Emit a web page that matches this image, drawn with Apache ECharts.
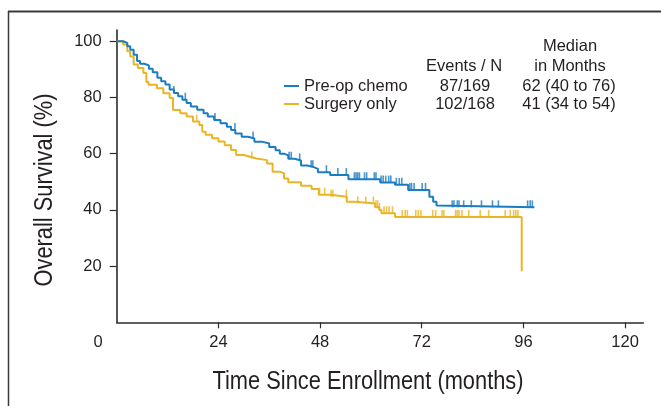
<!DOCTYPE html>
<html>
<head>
<meta charset="utf-8">
<script src="https://cdn.jsdelivr.net/npm/echarts@6/dist/echarts.min.js"></script>
<style>
html,body{margin:0;padding:0;background:#fff;}
#chart{width:661px;height:406px;}
</style>
</head>
<body>
<div id="chart"></div>
<script>
// ---- Data ----
const seriesNames = ['Pre-op chemo', 'Surgery only'];
const eventsN = ['87/169', '102/168'];
const medians = ['62 (40 to 76)', '41 (34 to 54)'];
const headerEvents = 'Events / N';
const headerMedian1 = 'Median';
const headerMedian2 = 'in Months';
const xTitle = 'Time Since Enrollment (months)';
const yTitle = 'Overall Survival (%)';
const xTickValues = [0, 24, 48, 72, 96, 120];
const yTickValues = [20, 40, 60, 80, 100];

// Kaplan-Meier steps: survival drops to value at time
const chemoTime = [0, 1.5, 2.5, 3.2, 4, 4.8, 5.5, 6.5, 7.6, 8.5, 9.6, 10.5, 11.5, 12.5, 13.5, 14.5, 15.5, 16.5, 17.5, 19, 20.5, 21.5, 23, 24.5, 26, 27, 28, 29.5, 31, 32.5, 34.5, 36, 37.5, 38.5, 39.5, 40.5, 42, 43.5, 45, 46.5, 47.5, 50.4, 54.7, 62.2, 65.7, 68.8, 73.8, 74.7, 75.5, 75.9, 98.6];
const chemoSurv = [100, 99.4, 98.2, 97, 95.2, 93, 92, 91.4, 90.2, 89, 87, 85.8, 84.6, 82.8, 81.6, 80.4, 79.2, 78, 76.8, 75.6, 74.4, 73.2, 72, 70.8, 69.6, 68.4, 67.2, 66, 65.4, 64.2, 63.6, 62.4, 61.2, 60, 59.4, 58.2, 57.6, 55.8, 55.2, 54.6, 53.4, 52.4, 50.9, 49.7, 48.9, 47.1, 44.7, 42.9, 41.6, 40.9, 40.9];
const surgeryTime = [0, 1.5, 2.5, 3.2, 4, 5, 6.3, 7, 7.5, 9.5, 11, 12.5, 13.3, 15, 16.5, 18, 19.5, 20.2, 21, 22.5, 24, 25.5, 27, 28.2, 30, 31.5, 33, 35.5, 36.8, 38.5, 39.5, 40.5, 43.5, 46, 47.7, 50.4, 54.3, 56.3, 61, 62, 62.5, 65.7, 95.6];
const surgerySurv = [100, 98.8, 96.4, 94.6, 91.7, 90.5, 88.7, 85.5, 84.5, 83.3, 81.5, 79.8, 75.5, 74.4, 73.2, 71.4, 70.2, 67.8, 66.7, 65.5, 64.3, 63, 61.3, 59.5, 58.9, 58.3, 57.7, 56.5, 53.6, 53, 51.2, 49.8, 48.6, 47.4, 45.4, 44.7, 42.9, 42.3, 40.9, 40, 38.8, 37.5, 18.2];
// censoring times
const chemoCensor = [13.5, 16.2, 23.2, 27.9, 32.2, 40.7, 41.2, 43.2, 45.9, 46.3, 49.5, 52.2, 54.2, 56.1, 56.5, 56.9, 57.3, 58.5, 59.0, 60.8, 61.2, 62.4, 62.9, 63.5, 64.2, 64.7, 66.0, 66.7, 67.3, 69.2, 69.6, 70.2, 72.1, 72.9, 79.2, 79.6, 80.4, 80.8, 81.9, 83.7, 86.1, 88.7, 90.1, 97.0, 97.6, 98.1];
const surgeryCensor = [18.9, 31.9, 47.9, 49.1, 50.6, 51.0, 54.2, 56.9, 58.8, 60.6, 61.2, 61.6, 62.0, 63.1, 63.7, 64.3, 65.1, 67.4, 68.1, 68.6, 70.6, 71.2, 71.8, 74.6, 75.3, 76.8, 77.2, 80.0, 80.4, 80.8, 81.5, 83.1, 85.8, 87.8, 91.7, 92.9, 93.7, 94.2, 94.7];

// ---- Styles ----
const BLUE = '#1a7cc1';
const YELLOW = '#ebb424';
const TXT = '#231f20';
const SANS = '"Liberation Sans", Arial, Helvetica, sans-serif';

function pairs(t, s) { return t.map((v, i) => [v, s[i]]); }
function survAt(t, s, x) {
  let v = s[0];
  for (let i = 0; i < t.length; i++) { if (t[i] <= x) v = s[i]; else break; }
  return v;
}
function censorPts(c, t, s) { return c.map(x => [x, survAt(t, s, x)]); }

const chart = echarts.init(document.getElementById('chart'), null, { renderer: 'canvas' });

const tableRows = [86, 104];
const graphics = [
  { type: 'line', shape: { x1: 8, y1: 11.5, x2: 661, y2: 11.5 }, style: { stroke: '#3a3a3a', lineWidth: 2 } },
  { type: 'line', shape: { x1: 8.5, y1: 11, x2: 8.5, y2: 406 }, style: { stroke: '#3a3a3a', lineWidth: 1.5 } },
  { type: 'text', x: 570, y: 46, style: { text: headerMedian1, font: '16.5px ' + SANS, fill: TXT, align: 'center', verticalAlign: 'middle' } },
  { type: 'text', x: 570, y: 66, style: { text: headerMedian2, font: '16.5px ' + SANS, fill: TXT, align: 'center', verticalAlign: 'middle' } },
  { type: 'text', x: 464, y: 66, style: { text: headerEvents, font: '16.5px ' + SANS, fill: TXT, align: 'center', verticalAlign: 'middle' } },
  { type: 'text', x: 368, y: 382, scaleX: 0.84, style: { text: xTitle, font: '26px ' + SANS, fill: TXT, align: 'center', verticalAlign: 'middle' } },
  { type: 'text', x: 45, y: 190, rotation: Math.PI / 2, scaleX: 0.84, style: { text: yTitle, font: '26px ' + SANS, fill: TXT, align: 'center', verticalAlign: 'middle' } }
];
tableRows.forEach((y, i) => {
  graphics.push({ type: 'text', x: 465, y: y, style: { text: eventsN[i], font: '16.5px ' + SANS, fill: TXT, align: 'center', verticalAlign: 'middle' } });
  graphics.push({ type: 'text', x: 569, y: y, style: { text: medians[i], font: '16.5px ' + SANS, fill: TXT, align: 'center', verticalAlign: 'middle' } });
});

const option = {
  animation: false,
  backgroundColor: '#fff',
  grid: { left: 116.7, right: 17.7, top: 30, bottom: 83.7, containLabel: false },
  legend: {
    data: seriesNames,
    orient: 'vertical',
    left: 284,
    top: 77,
    itemWidth: 15,
    itemHeight: 2,
    itemGap: 0,
    icon: 'rect',
    padding: 0,
    textStyle: { fontFamily: SANS, fontSize: 16.5, color: TXT, lineHeight: 18 },
    selectedMode: false
  },
  xAxis: {
    type: 'value', min: 0, max: 124.3, interval: 24,
    axisLine: { lineStyle: { color: '#2b2b2b', width: 1.6 } },
    axisTick: { show: true, length: 6, customValues: [24, 48, 72, 96, 120], lineStyle: { color: '#2b2b2b', width: 1.2 } },
    axisLabel: {
      customValues: xTickValues, margin: 12,
      fontFamily: SANS, fontSize: 16.5, color: TXT,
      formatter: v => v === 0 ? '{z|0}' : String(v),
      rich: { z: { padding: [0, 37, 0, 0], fontFamily: SANS, fontSize: 16.5, color: TXT } }
    },
    splitLine: { show: false }
  },
  yAxis: {
    type: 'value', min: 0, max: 104, interval: 20,
    axisLine: { show: true, lineStyle: { color: '#2b2b2b', width: 1.6 } },
    axisTick: { show: true, length: 7, customValues: yTickValues, lineStyle: { color: '#2b2b2b', width: 1.2 } },
    axisLabel: { customValues: yTickValues, margin: 15, fontFamily: SANS, fontSize: 16.5, color: TXT },
    splitLine: { show: false }
  },
  series: [
    { name: seriesNames[0], type: 'line', step: 'end', data: pairs(chemoTime, chemoSurv), showSymbol: false, symbol: 'none',
      lineStyle: { color: BLUE, width: 2 }, itemStyle: { color: BLUE }, z: 3 },
    { name: seriesNames[1], type: 'line', step: 'end', data: pairs(surgeryTime, surgerySurv), showSymbol: false, symbol: 'none',
      lineStyle: { color: YELLOW, width: 2 }, itemStyle: { color: YELLOW }, z: 2 },
    { name: 'c1', type: 'scatter', data: censorPts(chemoCensor, chemoTime, chemoSurv), symbol: 'rect', symbolSize: [1.6, 7], symbolOffset: [0, -3.5],
      itemStyle: { color: BLUE }, z: 3, silent: true },
    { name: 'c2', type: 'scatter', data: censorPts(surgeryCensor, surgeryTime, surgerySurv), symbol: 'rect', symbolSize: [1.6, 7], symbolOffset: [0, -3.5],
      itemStyle: { color: YELLOW }, z: 2, silent: true }
  ],
  graphic: graphics
};
chart.setOption(option);
</script>
</body>
</html>
